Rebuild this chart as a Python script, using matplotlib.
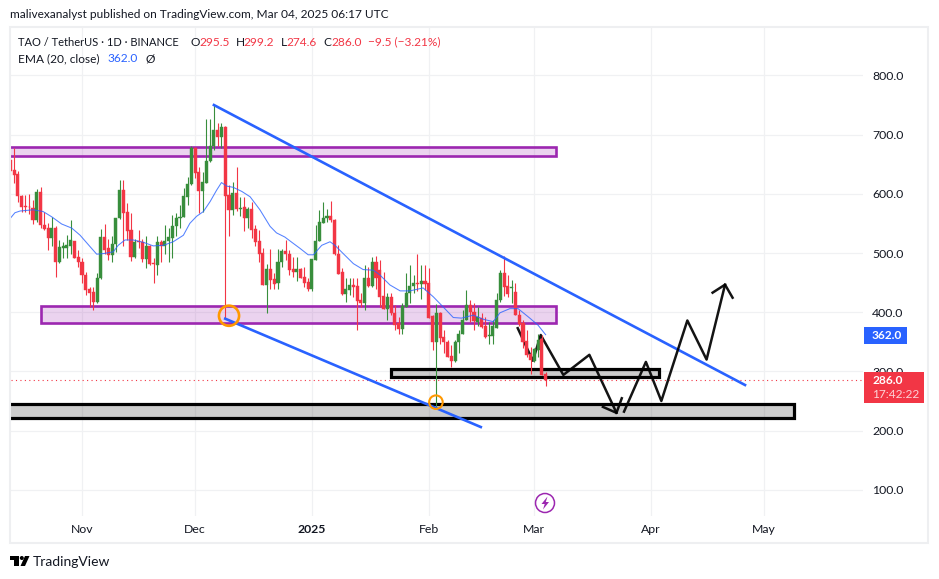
import matplotlib
matplotlib.use("Agg")
import matplotlib.pyplot as plt
from matplotlib.patches import Rectangle, Circle, Polygon
import numpy as np

plt.rcParams["font.family"] = ["Lato", "DejaVu Sans"]

# daily candles, Oct 13 2024 to Mar 4 2025
opens = [657, 640, 633, 597, 579, 578, 576, 556, 603, 547, 542, 525, 542, 485, 509, 509, 512, 520, 493, 484,
         462, 439, 434, 417, 457, 527, 508, 497, 516, 559, 606, 569, 539, 494, 519, 519, 490, 512, 483, 480,
         519, 511, 521, 526, 546, 559, 560, 595, 617, 678, 637, 605, 619, 655, 680, 707, 696, 713, 598, 573,
         602, 574, 578, 559, 574, 540, 520, 500, 446, 473, 456, 450, 484, 503, 499, 473, 468, 473, 459, 451,
         439, 489, 520, 551, 559, 562, 556, 498, 468, 430, 438, 446, 444, 421, 416, 458, 444, 485, 471, 427,
         406, 425, 399, 381, 372, 408, 432, 444, 450, 448, 453, 449, 393, 350, 399, 358, 350, 326, 318, 349,
         364, 386, 412, 401, 383, 391, 376, 359, 360, 374, 420, 467, 444, 441, 434, 396, 382, 352, 329, 318,
         336, 354, 295.5]
highs = [667, 678, 638, 598, 598, 599, 590, 608, 611, 570, 550, 561, 546, 522, 519, 530, 556, 521, 505, 491,
         468, 443, 443, 467, 540, 549, 523, 528, 559, 623, 623, 584, 567, 523, 539, 523, 528, 513, 491, 529,
         522, 548, 542, 564, 567, 581, 609, 628, 680, 679, 646, 637, 726, 726, 750, 719, 719, 714, 615, 620,
         645, 595, 595, 578, 586, 547, 539, 508, 481, 507, 466, 507, 506, 522, 505, 494, 494, 475, 477, 457,
         490, 548, 573, 586, 574, 588, 557, 514, 474, 457, 457, 457, 457, 432, 480, 477, 494, 495, 488, 468,
         432, 432, 412, 392, 415, 466, 480, 463, 498, 480, 480, 474, 395, 414, 401, 370, 353, 345, 353, 370,
         404, 437, 421, 415, 409, 398, 392, 384, 387, 432, 471, 495, 463, 454, 449, 404, 387, 370, 342, 339,
         364, 361, 299.2]
lows = [632, 618, 586, 570, 570, 566, 549, 553, 542, 539, 505, 511, 460, 483, 491, 491, 499, 491, 477, 450,
        429, 408, 404, 415, 456, 498, 488, 485, 502, 558, 511, 522, 487, 491, 508, 485, 475, 480, 450, 462,
        485, 499, 485, 491, 528, 542, 560, 581, 615, 626, 567, 570, 618, 654, 674, 680, 677, 388, 529, 564,
        571, 562, 538, 542, 525, 511, 485, 446, 399, 440, 440, 440, 476, 488, 463, 460, 452, 457, 442, 436,
        435, 489, 520, 550, 553, 553, 497, 465, 429, 418, 429, 426, 370, 409, 403, 443, 443, 440, 409, 406,
        387, 395, 370, 363, 363, 408, 415, 432, 435, 423, 437, 390, 336, 238, 347, 331, 325, 308, 316, 331,
        363, 386, 384, 370, 376, 373, 356, 347, 347, 374, 418, 427, 426, 415, 395, 376, 339, 325, 296, 316,
        325, 294, 274.6]
closes = [639, 632, 597, 578, 578, 577, 556, 603, 547, 541, 525, 542, 485, 510, 511, 513, 522, 492, 484, 462,
          437, 433, 417, 457, 527, 505, 497, 516, 559, 606, 568, 538, 494, 519, 518, 490, 512, 482, 482, 519,
          511, 521, 527, 546, 559, 561, 596, 617, 678, 635, 605, 620, 656, 681, 707, 696, 713, 597, 573, 602,
          574, 575, 559, 574, 539, 519, 499, 446, 473, 454, 448, 485, 503, 499, 471, 468, 473, 458, 449, 439,
          490, 521, 552, 559, 562, 555, 498, 465, 430, 439, 446, 443, 419, 416, 457, 444, 485, 457, 426, 406,
          425, 398, 379, 372, 410, 432, 445, 450, 448, 453, 448, 391, 350, 398, 357, 349, 325, 318, 350, 364,
          386, 412, 400, 385, 392, 375, 358, 362, 376, 421, 467, 443, 431, 443, 396, 380, 350, 328, 319, 337,
          353, 294, 286.0]
first_day = -19  # days from Nov 1

ema_days = [-19.1, -17.8, -16.4, -12.9, -10.3, -8, -5.4, -2.7, -0.5, 2.1, 3.9, 5.7, 8.3, 9.6, 11.4, 13.6, 16.3,
            18.9, 21.6, 24.2, 26.9, 28.6, 30.4, 32.2, 34, 35.7, 37, 38.4, 40.1, 42.4, 44.6, 47.2, 49.9, 51.6,
            53.8, 56.1, 57.8, 60, 61.4, 63.6, 65.8, 67.1, 69.3, 72, 74.6, 77.3, 79, 81.7, 84.4, 87, 90.5, 93.2,
            95.8, 98.5, 100.7, 103.8, 106.5, 109.1, 110.9, 113.5, 115.7, 118.8, 121, 123]
ema_values = [558, 568, 571, 573, 570, 561, 549, 542, 530, 511, 498, 499, 502, 513, 522, 522, 518, 512, 513, 519,
              530, 550, 562, 570, 587, 606, 619, 613, 611, 604, 595, 573, 545, 534, 527, 516, 508, 497, 497, 513,
              519, 513, 499, 482, 472, 471, 463, 446, 436, 436, 441, 426, 409, 391, 390, 395, 388, 384, 399, 406,
              406, 390, 378, 362]

# drawings on the chart
upper_line_x, upper_line_y = [35, 175.9], [750, 277]
lower_line_x, lower_line_y = [38, 105.8], [389, 206]
top_zone = (-40, 125.7, 664, 679)
mid_zone = (-11, 125.7, 382, 410.5)
small_box = (81.9, 153.2, 290, 303.5)
big_box = (-40, 188.9, 222, 245)
circle_x, circle_y = [39, 93.9], [394, 248]
path_a_x = [115.6, 119.6, 121.7, 127.7, 134.6, 141.8]
path_a_y = [373, 318, 361.5, 294, 328, 230]
head_a_x, head_a_y = [138.2, 141.8, 143.2], [240, 230, 254.6]
path_b_x = [143.8, 149.6, 153.7, 160.6, 165.7, 170.6]
path_b_y = [232, 316, 250, 386, 320, 446.5]
head_b_x, head_b_y = [167.3, 170.6, 172.6], [433, 446.5, 424.5]

price_ticks = [100, 200, 300, 400, 500, 600, 700, 800]
month_days = [0, 30, 61, 92, 120, 151, 181]
month_labels = ["Nov", "Dec", "2025", "Feb", "Mar", "Apr", "May"]
last_price = 286.0

RED = "#f23645"
GREEN = "#388e3c"
BLUE = "#2962ff"
PURPLE = "#9c27b0"
INK = "#131722"
GRID = "#f0f1f3"
W, H = 939, 579

fig = plt.figure(figsize=(W / 100, H / 100), dpi=100, facecolor="white")
ax = fig.add_axes([10.5 / W, 1 - 516 / H, (863 - 10.5) / W, (516 - 27) / H])
ax.set_xlim(-18.97, 207.2)
ax.set_ylim(55.7, 881.8)
for s in ax.spines.values():
    s.set_visible(False)
ax.grid(True, color=GRID, lw=0.9)
ax.set_axisbelow(True)

ax.yaxis.tick_right()
ax.set_yticks(price_ticks)
ax.set_yticklabels(["%.1f" % p for p in price_ticks])
ax.tick_params(axis="y", length=0, pad=6.5, labelsize=8.8, labelcolor=INK)
ax.set_xticks(month_days)
ax.set_xticklabels(month_labels)
ax.tick_params(axis="x", length=0, pad=6, labelsize=8.8, labelcolor=INK)
ax.get_xticklabels()[2].set_fontweight("bold")

# candles sit above the zones and the first black leg, as in the picture
days = first_day + np.arange(len(opens))
o, h, l, c = map(np.array, (opens, highs, lows, closes))
colors = np.where(c >= o, GREEN, RED)
ax.vlines(days, l, h, colors=colors, lw=0.8, zorder=2)
ax.bar(days, np.maximum(np.abs(c - o), 1.5), bottom=np.minimum(o, c), width=0.82, color=colors,
       edgecolor=colors, linewidth=0.3, zorder=3)

ax.plot(ema_days, ema_values, color=BLUE, lw=0.75, alpha=0.8, zorder=4)
ax.axhline(last_price, color=RED, lw=0.8, ls=(0, (1, 3)), zorder=4)


def zone(box, face, edge, lw):
    x0, x1, y0, y1 = box
    ax.add_patch(Rectangle((x0, y0), x1 - x0, y1 - y0, facecolor=face, edgecolor=edge, lw=lw, zorder=1))


zone(top_zone, (0.61, 0.15, 0.69, 0.2), PURPLE, 1.9)
zone(mid_zone, (0.61, 0.15, 0.69, 0.2), PURPLE, 1.9)
zone(small_box, (0, 0, 0, 0.2), "black", 2.3)
zone(big_box, (0, 0, 0, 0.2), "black", 2.3)

ax.plot(upper_line_x, upper_line_y, color=BLUE, lw=1.9, zorder=6)
ax.plot(lower_line_x, lower_line_y, color=BLUE, lw=1.9, zorder=6)
ax.scatter(circle_x[0], circle_y[0], s=210, facecolors="none", edgecolors="#ff9800", linewidths=1.9, zorder=7)
ax.scatter(circle_x[1], circle_y[1], s=95, facecolors="none", edgecolors="#ff9800", linewidths=1.5, zorder=7)
ax.plot(path_a_x, path_a_y, color="black", lw=1.8, alpha=0.92, zorder=1.5)
for xs, ys in [(head_a_x, head_a_y), (path_b_x, path_b_y), (head_b_x, head_b_y)]:
    ax.plot(xs, ys, color="black", lw=1.8, alpha=0.92, zorder=7)

# page furniture, in pixel coordinates
page = fig.add_axes([0, 0, 1, 1], zorder=5)
page.set_xlim(0, W)
page.set_ylim(H, 0)
page.axis("off")
page.patch.set_alpha(0)
page.add_patch(Rectangle((9.5, 26.5), 918.5, 516.5, fill=False, edgecolor="#eeeff1", lw=1.5))


def label(x, y, s, color=INK, size=8.6, **kw):
    page.text(x, y, s, color=color, fontsize=size, va="center", ha="left", **kw)


label(10, 15, "malivexanalyst published on TradingView.com, Mar 04, 2025 06:17 UTC", size=8.6)
label(18, 42, "TAO / TetherUS \u00b7 1D \u00b7 BINANCE", size=8.0)
for x, s, col in [(190.7, "O", INK), (199, "295.5", RED), (236, "H", INK), (243.7, "299.2", RED),
                  (281, "L", INK), (286.7, "274.6", RED), (323.3, "C", INK), (331, "286.0", RED),
                  (367.7, "\u22129.5 (\u22123.21%)", RED)]:
    label(x, 42, s, col)
label(18, 59, "EMA (20, close)")
label(107.7, 59, "362.0", BLUE)
label(145, 59, "\u00d8")

page.add_patch(Rectangle((864, 327), 43, 17, facecolor=BLUE, edgecolor="none"))
label(872, 335.5, "362.0", "white", fontweight="bold")
page.add_patch(Rectangle((864, 371.5), 60, 31, facecolor=RED, edgecolor="none"))
label(872, 380, "286.0", "white", fontweight="bold")
label(872, 395, "17:42:22", "#fcd3d7")

# lightning badge
page.add_patch(Circle((545, 503), 9.5, fill=False, edgecolor=PURPLE, lw=1.1))
page.add_patch(Polygon([[547.5, 496.5], [541.5, 504], [544.7, 504], [543, 509.5], [549, 502], [545.8, 502]],
                       closed=True, facecolor=PURPLE, edgecolor="none"))

# logo
page.add_patch(Polygon([[10, 556], [19, 556], [19, 566], [14, 566], [14, 560], [10, 560]], closed=True,
                       facecolor="black", edgecolor="none"))
page.add_patch(Circle((21.8, 558), 2.0, facecolor="black", edgecolor="none"))
page.add_patch(Polygon([[25, 556], [29.5, 556], [25, 566], [20.5, 566]], closed=True, facecolor="black",
                       edgecolor="none"))
label(33, 561.5, "TradingView", size=10)

fig.savefig("out.png", dpi=100)
